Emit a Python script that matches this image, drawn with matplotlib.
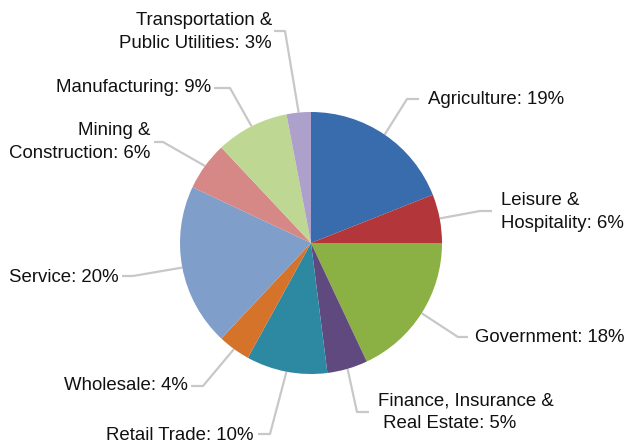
import matplotlib
matplotlib.use("Agg")
import matplotlib.pyplot as plt
import numpy as np

categories = ["Agriculture", "Leisure &\nHospitality", "Government",
              "Finance, Insurance &\n Real Estate", "Retail Trade", "Wholesale",
              "Service", "Mining &\nConstruction", "Manufacturing",
              "Transportation &\nPublic Utilities"]
values = [19, 6, 18, 5, 10, 4, 20, 6, 9, 3]
colors = ["#386CAC", "#B3373A", "#8BB043", "#60497F", "#2D89A2", "#D5732A",
          "#809ECA", "#D68886", "#BED793", "#ADA0CB"]

W, H = 627, 444
fig = plt.figure(figsize=(W / 100, H / 100), dpi=100)
ax = fig.add_axes([0, 0, 1, 1])

def P(x, y):
    return (x, H - y)

cx, cy = P(311, 243)
R = 131
wedges, _ = ax.pie(values, colors=colors, startangle=90, counterclock=False,
                   center=(cx, cy), radius=R, frame=True,
                   wedgeprops=dict(linewidth=0))
ax.set_xlim(0, W)
ax.set_ylim(0, H)
ax.set_aspect("equal")
ax.axis("off")

# label anchor (pixel), elbow (pixel), horizontal end (pixel), ha
layout = [
    ((428, 100), (407, 99), (419, 99), "left"),
    ((501, 212), (480, 211), (492, 211), "left"),
    ((475, 338), (458, 337), (468, 337), "left"),
    ((378, 412), (357, 412), (369, 412), "left"),
    ((253, 435), (270, 434), (258, 434), "right"),
    ((188, 386), (203, 386), (191, 386), "right"),
    ((119, 277), (133, 276), (122, 276), "right"),
    ((150, 142), (163, 142), (154, 142), "right"),
    ((211, 88), (230, 88), (214, 88), "right"),
    ((272, 32), (285, 31), (274, 31), "right"),
]

lc = "#C8C8C8"
for w, cat, v, (txt, elb, hend, ha) in zip(wedges, categories, values, layout):
    mid = np.deg2rad((w.theta1 + w.theta2) / 2)
    sx = cx + R * np.cos(mid)
    sy = cy + R * np.sin(mid)
    ex, ey = P(*elb)
    hx, hy = P(*hend)
    ax.plot([sx, ex, hx], [sy, ey, hy], color=lc, lw=1.6, solid_capstyle="butt", zorder=0)
    tx, ty = P(*txt)
    ax.text(tx, ty, f"{cat}: {v}%", ha=ha, va="center", fontsize=13.4,
            family="Liberation Sans", color="#111111", linespacing=1.44,
            multialignment=ha)

fig.savefig("out.png", dpi=100)
